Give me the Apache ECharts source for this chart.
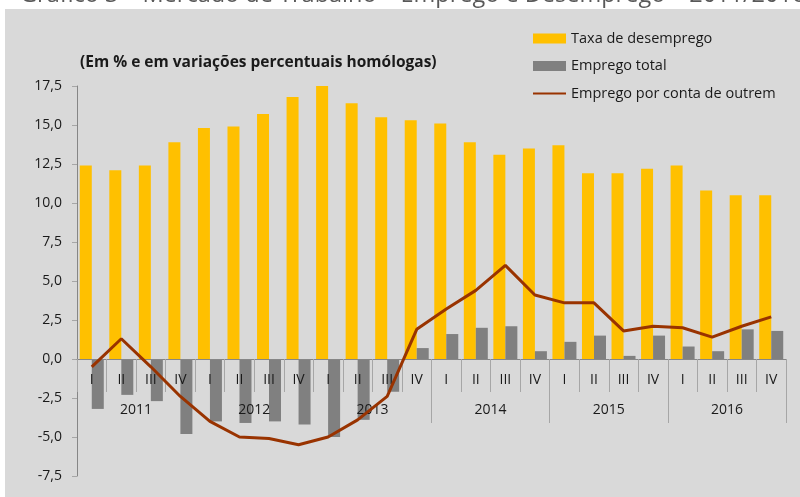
<!DOCTYPE html>
<html>
<head>
<meta charset="utf-8">
<script src="https://cdn.jsdelivr.net/npm/echarts@6/dist/echarts.min.js"></script>
<style>
    html, body { margin: 0; padding: 0; background: #ffffff; }
    #chart { width: 800px; height: 497px; }
</style>
</head>
<body>
<div id="chart"></div>
<script>
const quarters = ["I", "II", "III", "IV", "I", "II", "III", "IV", "I", "II", "III", "IV",
    "I", "II", "III", "IV", "I", "II", "III", "IV", "I", "II", "III", "IV"];
const years = ["2011", "2012", "2013", "2014", "2015", "2016"];
const taxa_desemprego = [12.4, 12.1, 12.4, 13.9, 14.8, 14.9, 15.7, 16.8, 17.5, 16.4, 15.5, 15.3,
    15.1, 13.9, 13.1, 13.5, 13.7, 11.9, 11.9, 12.2, 12.4, 10.8, 10.5, 10.5];
const emprego_total = [-3.2, -2.3, -2.7, -4.8, -4.0, -4.1, -4.0, -4.2, -5.0, -3.9, -2.1, 0.7,
    1.6, 2.0, 2.1, 0.5, 1.1, 1.5, 0.2, 1.5, 0.8, 0.5, 1.9, 1.8];
const emprego_outrem = [-0.5, 1.3, -0.5, -2.4, -4.0, -5.0, -5.1, -5.5, -5.0, -3.9, -2.4, 1.9,
    3.2, 4.4, 6.0, 4.1, 3.6, 3.6, 1.8, 2.1, 2.0, 1.4, 2.1, 2.7];

const font = "'Open Sans', sans-serif";
const text_color = "#1a1a1a";
const zero_offset = -117;  // x axes sit on the 0,0 line (grid bottom is -7,5)

let chart = echarts.init(document.getElementById('chart'));

let option = {
    backgroundColor: "#ffffff",
    animation: false,
    textStyle: { fontFamily: font },
    graphic: [
        {
            type: "rect",
            z: -100,
            shape: { x: 5, y: 9, width: 795, height: 488 },
            style: { fill: "#d9d9d9" },
        },
        {
            type: "text",
            x: 20,
            y: -5,
            style: {
                text: "Gráfico 3 – Mercado de Trabalho – Emprego e Desemprego – 2011/2016",
                font: "23.5px " + font,
                fill: "#595959",
                verticalAlign: "middle",
            },
        },
        {
            type: "text",
            x: 80,
            y: 63,
            style: {
                text: "(Em % e em variações percentuais homólogas)",
                font: "bold 15.5px " + font,
                fill: text_color,
                verticalAlign: "middle",
            },
        },
    ],
    legend: {
        orient: "vertical",
        left: 532,
        top: 31,
        padding: 0,
        itemWidth: 33,
        itemHeight: 10,
        itemGap: 12.5,
        textStyle: { fontSize: 14.5, color: text_color, fontFamily: font },
        data: [
            { name: "Taxa de desemprego", icon: "rect" },
            { name: "Emprego total", icon: "rect" },
            { name: "Emprego por conta de outrem", itemStyle: { opacity: 0 } },
        ],
    },
    grid: { left: 77, right: 14, top: 86, bottom: 21, containLabel: false, outerBoundsMode: "none" },
    xAxis: [
        {
            type: "category",
            position: "bottom",
            offset: zero_offset,
            z: 3,
            data: quarters,
            axisLine: { onZero: false, lineStyle: { color: "#868686", width: 1 } },
            axisTick: { show: true, interval: 0, length: 33, lineStyle: { color: "#a6a6a6" } },
            axisLabel: { interval: 0, margin: 14, fontSize: 14, color: text_color },
        },
        {
            type: "category",
            position: "bottom",
            offset: zero_offset,
            z: 3,
            data: years,
            axisLine: { show: false, onZero: false },
            axisTick: {
                show: true,
                interval: (idx) => idx >= 3,
                length: 64,
                lineStyle: { color: "#a6a6a6" },
            },
            axisLabel: { interval: 0, margin: 44, fontSize: 14, color: text_color },
        },
    ],
    yAxis: {
        type: "value",
        min: -7.5,
        max: 17.5,
        interval: 2.5,
        splitLine: { show: false },
        axisLine: { show: true, lineStyle: { color: "#868686" } },
        axisTick: { show: true, length: 5, lineStyle: { color: "#a6a6a6" } },
        axisLabel: {
            margin: 15,
            fontSize: 14,
            color: text_color,
            formatter: (v) => v.toFixed(1).replace(".", ","),
        },
    },
    series: [
        {
            name: "Taxa de desemprego",
            type: "bar",
            xAxisIndex: 0,
            barWidth: 12,
            barGap: "0%",
            itemStyle: { color: "#ffc000" },
            data: taxa_desemprego,
        },
        {
            name: "Emprego total",
            type: "bar",
            xAxisIndex: 0,
            barWidth: 12,
            barGap: "0%",
            itemStyle: { color: "#808080" },
            data: emprego_total,
        },
        {
            name: "Emprego por conta de outrem",
            type: "line",
            xAxisIndex: 0,
            symbol: "none",
            z: 5,
            lineStyle: { color: "#993300", width: 3 },
            itemStyle: { color: "#993300" },
            data: emprego_outrem,
        },
    ],
};

chart.setOption(option);
</script>
</body>
</html>
